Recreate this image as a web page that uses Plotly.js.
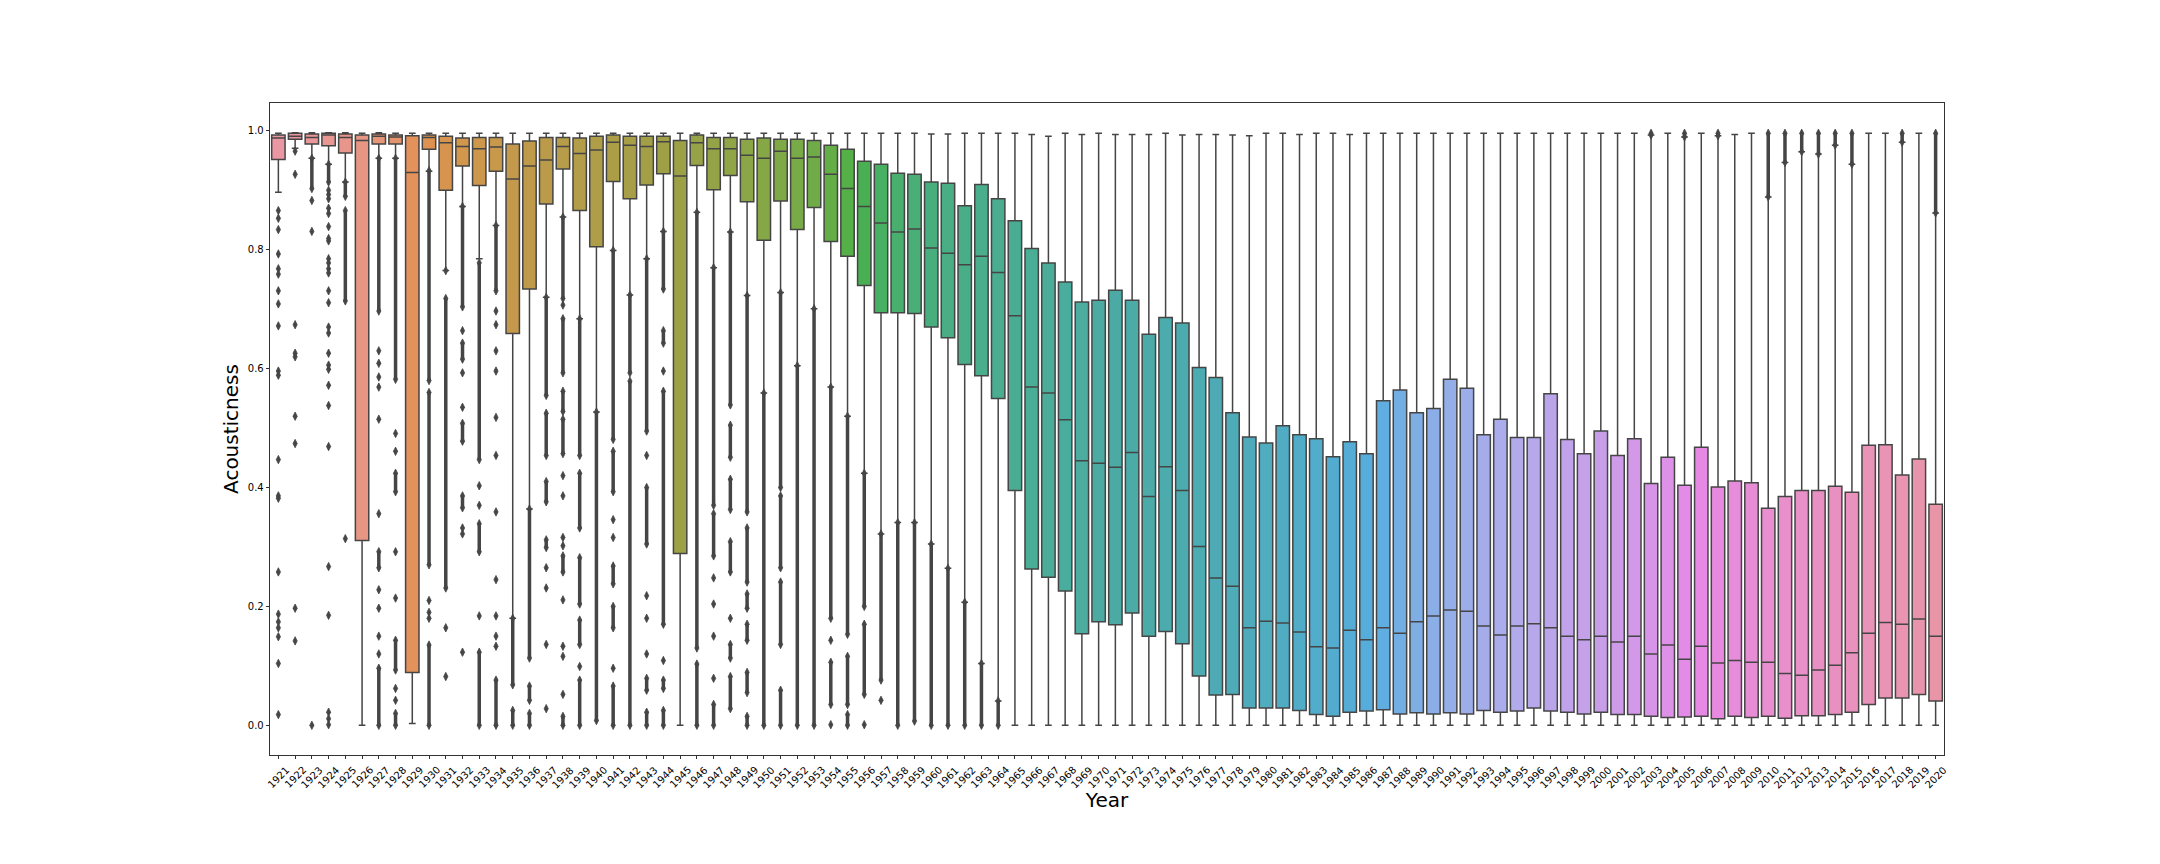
<!DOCTYPE html>
<html>
<head>
<meta charset="utf-8">
<script src="https://cdn.plot.ly/plotly-3.0.1.min.js"></script>
<style>html,body{margin:0;padding:0;background:#fff}</style>
</head>
<body>
<div id="chart" style="width:2160px;height:864px"></div>
<script>
// Data
const years = [1921,1922,1923,1924,1925,1926,1927,1928,1929,1930,
  1931,1932,1933,1934,1935,1936,1937,1938,1939,1940,
  1941,1942,1943,1944,1945,1946,1947,1948,1949,1950,
  1951,1952,1953,1954,1955,1956,1957,1958,1959,1960,
  1961,1962,1963,1964,1965,1966,1967,1968,1969,1970,
  1971,1972,1973,1974,1975,1976,1977,1978,1979,1980,
  1981,1982,1983,1984,1985,1986,1987,1988,1989,1990,
  1991,1992,1993,1994,1995,1996,1997,1998,1999,2000,
  2001,2002,2003,2004,2005,2006,2007,2008,2009,2010,
  2011,2012,2013,2014,2015,2016,2017,2018,2019,2020];

const q1 = [0.952,0.986,0.978,0.975,0.963,0.311,0.978,0.978,0.089,0.969,
  0.900,0.941,0.908,0.932,0.659,0.734,0.877,0.936,0.866,0.805,
  0.915,0.886,0.909,0.928,0.289,0.942,0.901,0.925,0.881,0.816,
  0.882,0.834,0.871,0.814,0.789,0.740,0.694,0.694,0.693,0.670,
  0.652,0.607,0.588,0.550,0.395,0.263,0.249,0.226,0.154,0.174,
  0.169,0.189,0.150,0.158,0.137,0.083,0.051,0.052,0.029,0.029,
  0.029,0.025,0.018,0.015,0.022,0.024,0.026,0.019,0.021,0.019,
  0.021,0.019,0.025,0.022,0.024,0.029,0.024,0.022,0.019,0.022,
  0.018,0.018,0.015,0.013,0.014,0.015,0.011,0.015,0.013,0.015,
  0.012,0.016,0.016,0.018,0.022,0.035,0.046,0.046,0.052,0.041];

const median = [0.988,0.991,0.989,0.993,0.989,0.984,0.991,0.990,0.930,0.989,
  0.980,0.974,0.970,0.973,0.919,0.941,0.951,0.974,0.962,0.968,
  0.981,0.976,0.974,0.982,0.924,0.980,0.970,0.970,0.959,0.954,
  0.966,0.954,0.956,0.927,0.903,0.873,0.845,0.830,0.835,0.803,
  0.794,0.775,0.789,0.762,0.689,0.569,0.559,0.514,0.445,0.441,
  0.434,0.459,0.385,0.435,0.395,0.301,0.248,0.234,0.164,0.175,
  0.172,0.157,0.132,0.130,0.160,0.144,0.164,0.155,0.174,0.184,
  0.194,0.192,0.167,0.152,0.167,0.171,0.164,0.150,0.144,0.150,
  0.140,0.150,0.120,0.135,0.111,0.133,0.105,0.109,0.106,0.106,
  0.087,0.084,0.093,0.101,0.122,0.155,0.173,0.170,0.179,0.150];

const q3 = [0.993,0.996,0.995,0.996,0.995,0.993,0.995,0.993,0.992,0.993,
  0.991,0.988,0.989,0.989,0.978,0.983,0.989,0.989,0.988,0.991,
  0.993,0.991,0.991,0.991,0.984,0.993,0.989,0.989,0.986,0.988,
  0.986,0.986,0.984,0.976,0.969,0.949,0.944,0.929,0.927,0.914,
  0.912,0.874,0.910,0.886,0.849,0.802,0.778,0.746,0.712,0.715,
  0.732,0.715,0.658,0.686,0.677,0.602,0.585,0.526,0.485,0.475,
  0.504,0.489,0.482,0.452,0.477,0.457,0.546,0.564,0.526,0.533,
  0.582,0.567,0.489,0.515,0.484,0.484,0.558,0.481,0.457,0.495,
  0.454,0.482,0.407,0.451,0.404,0.468,0.401,0.411,0.408,0.365,
  0.385,0.395,0.395,0.402,0.392,0.471,0.472,0.421,0.448,0.372];

const lowerWhisker = [0.897,0.971,0.954,0.944,0.914,0.000,0.954,0.954,0.003,0.932,
  0.765,0.873,0.785,0.841,0.180,0.364,0.720,0.855,0.684,0.527,
  0.799,0.724,0.785,0.831,0.000,0.863,0.770,0.830,0.723,0.559,
  0.728,0.605,0.701,0.569,0.520,0.424,0.322,0.341,0.341,0.305,
  0.264,0.207,0.104,0.041,0,0,0,0,0,0,
  0,0,0,0,0,0,0,0,0,0,
  0,0,0,0,0,0,0,0,0,0,
  0,0,0,0,0,0,0,0,0,0,
  0,0,0,0,0,0,0,0,0,0,
  0,0,0,0,0,0,0,0,0,0];

const upperWhisker = [0.996,0.997,0.997,0.997,0.997,0.996,0.997,0.996,0.996,0.996,
  0.996,0.996,0.996,0.996,0.996,0.996,0.996,0.996,0.996,0.996,
  0.996,0.996,0.996,0.996,0.996,0.996,0.996,0.996,0.996,0.996,
  0.996,0.996,0.996,0.996,0.996,0.996,0.996,0.996,0.996,0.995,
  0.995,0.996,0.996,0.996,0.996,0.994,0.991,0.996,0.994,0.996,
  0.994,0.994,0.994,0.996,0.993,0.994,0.994,0.993,0.992,0.996,
  0.996,0.994,0.996,0.996,0.994,0.996,0.996,0.996,0.996,0.996,
  0.996,0.996,0.996,0.996,0.996,0.996,0.996,0.996,0.996,0.996,
  0.996,0.996,0.993,0.996,0.990,0.996,0.992,0.994,0.996,0.889,
  0.947,0.965,0.961,0.976,0.944,0.996,0.996,0.981,0.996,0.862];

// Dense runs of outliers: [year, low, high]
const streakRows = [
  [1923,0.903,0.954],[1924,0.914,0.944],[1925,0.890,0.914],[1925,0.714,0.866],
  [1927,0.697,0.954],[1927,0.265,0.292],[1927,0.000,0.096],
  [1928,0.582,0.954],[1928,0.393,0.424],[1928,0.093,0.143],[1928,0.000,0.020],
  [1930,0.580,0.933],[1930,0.270,0.560],[1930,0.000,0.135],
  [1931,0.231,0.718],
  [1932,0.704,0.873],[1932,0.616,0.643],[1932,0.478,0.508],[1932,0.366,0.386],
  [1933,0.447,0.778],[1933,0.292,0.339],[1933,0.000,0.123],
  [1934,0.731,0.841],[1934,0.000,0.076],
  [1935,0.068,0.180],[1935,0.000,0.025],
  [1936,0.113,0.364],[1936,0.042,0.066],[1936,0.000,0.020],
  [1937,0.555,0.720],[1937,0.454,0.525],[1937,0.376,0.410],[1937,0.299,0.312],
  [1938,0.718,0.855],[1938,0.593,0.684],[1938,0.528,0.562],[1938,0.457,0.515],[1938,0.258,0.285],[1938,0.000,0.015],
  [1939,0.454,0.684],[1939,0.332,0.424],[1939,0.204,0.282],[1939,0.136,0.177],[1939,0.000,0.076],
  [1940,0.008,0.527],
  [1941,0.481,0.799],[1941,0.393,0.461],[1941,0.238,0.268],[1941,0.164,0.200],[1941,0.000,0.066],
  [1942,0.593,0.724],[1942,0.000,0.579],
  [1943,0.495,0.785],[1943,0.305,0.400],[1943,0.059,0.079],[1943,0.000,0.022],
  [1944,0.734,0.831],[1944,0.643,0.664],[1944,0.170,0.562],[1944,0.062,0.076],[1944,0.000,0.025],
  [1946,0.130,0.863],[1946,0.000,0.103],
  [1947,0.370,0.770],[1947,0.285,0.356],[1947,0.000,0.035],
  [1948,0.539,0.830],[1948,0.451,0.505],[1948,0.363,0.414],[1948,0.258,0.309],[1948,0.113,0.136],[1948,0.028,0.082],
  [1949,0.359,0.723],[1949,0.241,0.332],[1949,0.197,0.221],[1949,0.143,0.170],[1949,0.055,0.089],[1949,0.000,0.015],
  [1950,0.000,0.559],
  [1951,0.400,0.728],[1951,0.265,0.386],[1951,0.136,0.241],[1951,0.000,0.059],
  [1952,0.000,0.605],[1953,0.000,0.701],
  [1954,0.180,0.569],[1954,0.035,0.106],
  [1955,0.153,0.520],[1955,0.035,0.116],[1955,0.000,0.018],
  [1956,0.200,0.424],[1956,0.052,0.170],
  [1957,0.076,0.322],[1958,0.000,0.341],[1959,0.007,0.341],[1960,0.000,0.305],
  [1961,0.000,0.264],[1962,0.000,0.207],[1963,0.000,0.104],[1964,0.000,0.041],
  [2003,0.993,0.996],[2005,0.990,0.996],[2007,0.992,0.996],[2010,0.889,0.996],
  [2011,0.947,0.996],[2012,0.965,0.996],[2013,0.961,0.996],[2014,0.976,0.996],
  [2015,0.944,0.996],[2018,0.981,0.996],[2020,0.862,0.996]
];

// Single outliers: [year, values]
const flierRows = [
  [1921,[0.866,0.853,0.834,0.793,0.768,0.759,0.731,0.709,0.672,0.596,0.589,0.447,0.386,0.382,0.258,0.187,0.174,0.164,0.149,0.104,0.018]],
  [1922,[0.966,0.927,0.674,0.626,0.620,0.520,0.474,0.197,0.142]],
  [1923,[0.883,0.831,0.000]],
  [1924,[0.900,0.893,0.886,0.870,0.861,0.839,0.819,0.815,0.785,0.778,0.768,0.761,0.731,0.711,0.670,0.660,0.626,0.606,0.599,0.572,0.538,0.469,0.267,0.185,0.022,0.011,0.001]],
  [1925,[0.314]],
  [1927,[0.630,0.609,0.586,0.569,0.515,0.356,0.228,0.197,0.150,0.120]],
  [1928,[0.491,0.461,0.292,0.214,0.062,0.042]],
  [1930,[0.210,0.190,0.180]],
  [1931,[0.765,0.164,0.082]],
  [1932,[0.664,0.593,0.535,0.332,0.322,0.123]],
  [1933,[0.403,0.370,0.184]],
  [1934,[0.697,0.674,0.630,0.596,0.518,0.454,0.359,0.245,0.184,0.150,0.133]],
  [1937,[0.265,0.231,0.136,0.028]],
  [1938,[0.707,0.420,0.386,0.316,0.302,0.211,0.133,0.116,0.052]],
  [1939,[0.099]],
  [1941,[0.346,0.316,0.096]],
  [1943,[0.454,0.218,0.180,0.120]],
  [1944,[0.596,0.109]],
  [1947,[0.248,0.204,0.150,0.079]],
  [1948,[0.180]],
  [1954,[0.143,0.001]],
  [1956,[0.001]],
  [1957,[0.042]]
];

const yTicks = [0, 0.2, 0.4, 0.6, 0.8, 1.0];
const yTickText = ['0.0', '0.2', '0.4', '0.6', '0.8', '1.0'];

// seaborn style palette: husl hues, l=.7, s=.9, then desaturated to .75
const HM = [[3.2406, -1.5372, -0.4986], [-0.9689, 1.8758, 0.0415], [0.0557, -0.2040, 1.0570]];
function maxChroma(L, H) {
  const hr = H * Math.PI / 180, sinH = Math.sin(hr), cosH = Math.cos(hr);
  const sub1 = Math.pow(L + 16, 3) / 1560896.0;
  const sub2 = sub1 > 0.008856 ? sub1 : L / 903.3;
  let best = Infinity;
  for (const [m1, m2, m3] of HM) {
    const top = (0.99915 * m1 + 1.05122 * m2 + 1.14460 * m3) * sub2;
    const rb = 0.86330 * m3 - 0.17266 * m2;
    const lb = 0.12949 * m3 - 0.38848 * m1;
    const bottom = (rb * sinH + lb * cosH) * sub2;
    for (const t of [0, 1]) {
      const C = L * (top - 1.05122 * t) / (bottom + 0.17266 * sinH * t);
      if (C > 0 && C < best) best = C;
    }
  }
  return best;
}
function huslToRgb(h, s, l) {
  const C = maxChroma(l, h) / 100 * s;
  const hr = h * Math.PI / 180;
  const U = Math.cos(hr) * C, V = Math.sin(hr) * C;
  const t = (l + 16) / 116;
  const Y = t * t * t > 0.008856 ? t * t * t : (116 * t - 16) / 903.3;
  const vu = U / (13 * l) + 0.19784, vv = V / (13 * l) + 0.46834;
  const X = -(9 * Y * vu) / ((vu - 4) * vv - vu * vv);
  const Z = (9 * Y - 15 * vv * Y - vv * X) / (3 * vv);
  return HM.map(r => {
    const c = r[0] * X + r[1] * Y + r[2] * Z;
    const g = c <= 0.0031308 ? 12.92 * c : 1.055 * Math.pow(c, 1 / 2.4) - 0.055;
    return Math.min(1, Math.max(0, g));
  });
}
function desat(rgb, p) {
  const l = (Math.max(...rgb) + Math.min(...rgb)) / 2;
  return rgb.map(c => l + (c - l) * p);
}
const toHex = rgb => '#' + rgb.map(c => Math.round(c * 255).toString(16).padStart(2, '0')).join('');

const rgbColors = years.map((_, i) => desat(huslToRgb(((i / years.length + 0.01) % 1) * 359, 89.1, 69.3), 0.75));
const palette = rgbColors.map(toHex);
const lum = Math.min(...rgbColors.map(c => (Math.max(...c) + Math.min(...c)) / 2)) * 0.6;
const gray = toHex([lum, lum, lum]);

const cats = years.map(String);

// Boxes
const traces = cats.map((c, i) => ({
  type: 'box',
  x: [c],
  q1: [q1[i]], median: [median[i]], q3: [q3[i]],
  lowerfence: [lowerWhisker[i]], upperfence: [upperWhisker[i]],
  fillcolor: palette[i],
  line: { color: gray, width: 1.5 },
  width: 0.8,
  whiskerwidth: 0.5,
  boxpoints: false,
  hoverinfo: 'skip',
  showlegend: false
}));

// Dense outlier runs
const sx = [], sy = [];
streakRows.forEach(([yr, lo, hi]) => { sx.push(String(yr), String(yr), null); sy.push(lo, hi, null); });
traces.push({
  type: 'scatter', mode: 'lines+markers', x: sx, y: sy,
  line: { color: gray, width: 3.5 },
  marker: { symbol: 'diamond-tall', size: 6, color: gray, line: { color: gray, width: 0.8 } },
  hoverinfo: 'skip', showlegend: false, connectgaps: false
});

// Single outliers
const fx = [], fy = [];
flierRows.forEach(([yr, vals]) => vals.forEach(v => { fx.push(String(yr)); fy.push(v); }));
traces.push({
  type: 'scatter', mode: 'markers', x: fx, y: fy,
  marker: { symbol: 'diamond-tall', size: 6, color: gray, line: { color: gray, width: 0.8 } },
  hoverinfo: 'skip', showlegend: false
});

// Rotated year labels centred under each tick (x given as category index)
const tickLabels = cats.map((c, i) => ({
  x: i, xref: 'x', y: 0, yref: 'paper', yshift: -7,
  text: c, textangle: -45, showarrow: false,
  xanchor: 'center', yanchor: 'top',
  font: { size: 10, color: '#000' }
}));

const axisStyle = {
  showline: true, mirror: true, linecolor: '#000', linewidth: 0.8,
  ticks: 'outside', ticklen: 3.5, tickwidth: 0.8, tickcolor: '#000',
  showgrid: false, zeroline: false
};

Plotly.newPlot('chart', traces, {
  width: 2160, height: 864,
  margin: { l: 270, r: 216, t: 103, b: 109 },
  paper_bgcolor: '#fff', plot_bgcolor: '#fff',
  font: { family: 'DejaVu Sans', color: '#000', size: 10 },
  boxmode: 'overlay',
  hovermode: false,
  xaxis: Object.assign({}, axisStyle, {
    type: 'category', categoryorder: 'array', categoryarray: cats,
    range: [-0.5, cats.length - 0.5],
    tickmode: 'array', tickvals: cats, showticklabels: false,
    title: { text: 'Year', font: { size: 20 }, standoff: 34 }
  }),
  yaxis: Object.assign({}, axisStyle, {
    range: [-0.05, 1.047],
    tickmode: 'array', tickvals: yTicks, ticktext: yTickText,
    tickfont: { size: 10 },
    title: { text: 'Acousticness', font: { size: 20 }, standoff: 3 }
  }),
  annotations: tickLabels
}, { displayModeBar: false, staticPlot: true });
</script>
</body>
</html>
